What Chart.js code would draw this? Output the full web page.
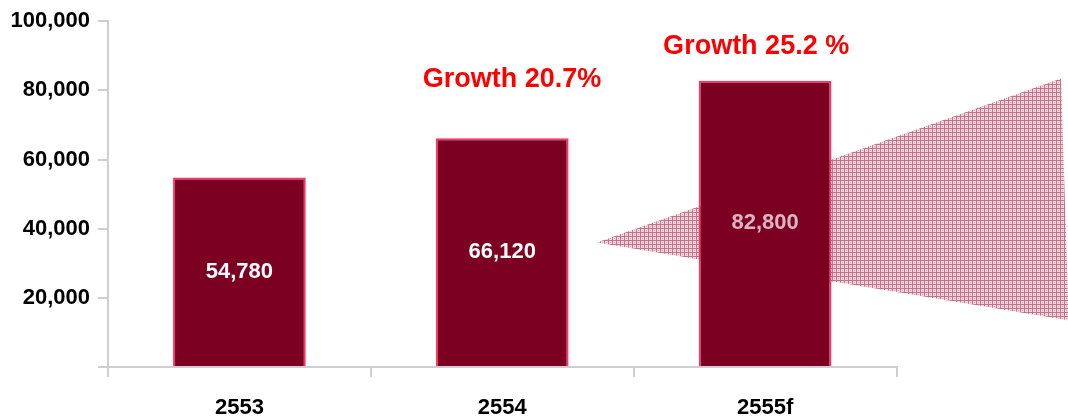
<!DOCTYPE html>
<html lang="en">
<head>
    <meta charset="UTF-8">
    <title>Growth</title>
    <script src="https://cdn.jsdelivr.net/npm/chart.js"></script>
    <style>
        html, body { margin: 0; padding: 0; background: #fff; }
        #wrap { width: 1068px; height: 419px; position: relative; }
    </style>
</head>
<body>
    <div id="wrap">
        <canvas id="growthChart"></canvas>
    </div>

    <script>
        const years = ['2553', '2554', '2555f'];
        const revenue = [54780, 66120, 82800];
        const growthText = ['', 'Growth 20.7%', 'Growth 25.2 %'];
        const yTicks = [0, 20000, 40000, 60000, 80000, 100000];

        const fontFamily = '"Liberation Sans", Arial, sans-serif';

        // hatched fill for the decorative wedge behind the last bar
        function makeHatch() {
            const c = document.createElement('canvas');
            c.width = 4; c.height = 4;
            const g = c.getContext('2d');
            g.fillStyle = '#f2dae0';
            g.fillRect(0, 0, 4, 4);
            g.fillStyle = '#c4728c';
            g.fillRect(0, 0, 4, 1);
            g.fillRect(0, 0, 1, 4);
            g.fillStyle = '#d99cae';
            g.fillRect(2, 2, 1, 1);
            return g.createPattern(c, 'repeat');
        }

        const wedgePlugin = {
            id: 'wedge',
            beforeDatasetsDraw(chart) {
                const x = chart.scales.x, y = chart.scales.y, ctx = chart.ctx;
                ctx.save();
                ctx.fillStyle = makeHatch();
                ctx.beginPath();
                ctx.moveTo(x.getPixelForValue(1.36), y.getPixelForValue(36000));
                ctx.lineTo(x.getPixelForValue(3.126), y.getPixelForValue(83450));
                ctx.lineTo(x.getPixelForValue(3.155), y.getPixelForValue(13500));
                ctx.closePath();
                ctx.fill();
                ctx.restore();
            }
        };

        const labelPlugin = {
            id: 'barLabels',
            afterDatasetsDraw(chart) {
                const ctx = chart.ctx;
                const meta = chart.getDatasetMeta(0);
                const x = chart.scales.x, y = chart.scales.y;
                ctx.save();
                ctx.textAlign = 'center';
                ctx.textBaseline = 'middle';
                meta.data.forEach((bar, i) => {
                    const last = i === revenue.length - 1;
                    ctx.font = 'bold 22px ' + fontFamily;
                    ctx.fillStyle = last ? '#dcb6c2' : '#ffffff';
                    ctx.fillText(revenue[i].toLocaleString('en-US'), bar.x, (bar.y + bar.base) / 2);
                });
                // growth annotations
                ctx.font = 'bold 27px ' + fontFamily;
                ctx.fillStyle = '#ff0000';
                ctx.fillText(growthText[1], x.getPixelForValue(1.037), y.getPixelForValue(83200));
                ctx.fillText(growthText[2], x.getPixelForValue(1.966), y.getPixelForValue(92700));
                ctx.restore();
            }
        };

        const ctx = document.getElementById('growthChart').getContext('2d');
        const growthChart = new Chart(ctx, {
            type: 'bar',
            data: {
                labels: years,
                datasets: [{
                    data: revenue,
                    backgroundColor: '#7b0022',
                    borderColor: '#ff3363',
                    borderWidth: 2,
                    barPercentage: 0.505,
                    categoryPercentage: 1.0
                }]
            },
            options: {
                responsive: true,
                maintainAspectRatio: false,
                animation: false,
                layout: {
                    padding: { top: 19.5, right: 171.5, bottom: 0, left: 0 }
                },
                plugins: {
                    legend: { display: false },
                    tooltip: { enabled: false }
                },
                scales: {
                    x: {
                        offset: true,
                        border: { display: true, color: '#cfcfcf', width: 2 },
                        grid: {
                            offset: true,
                            drawOnChartArea: false,
                            drawTicks: true,
                            tickLength: 10,
                            color: '#cfcfcf',
                            lineWidth: 2
                        },
                        ticks: {
                            color: '#000',
                            padding: 18,
                            font: { family: fontFamily, size: 22, weight: 'bold' }
                        },
                        afterFit(scale) { scale.height = 52; }
                    },
                    y: {
                        min: yTicks[0],
                        max: yTicks[yTicks.length - 1],
                        border: { display: true, color: '#cfcfcf', width: 2 },
                        grid: {
                            drawOnChartArea: false,
                            drawTicks: true,
                            tickLength: 10,
                            color: '#cfcfcf',
                            lineWidth: 2
                        },
                        afterBuildTicks(scale) {
                            scale.ticks = yTicks.map(v => ({ value: v }));
                        },
                        ticks: {
                            color: '#000',
                            padding: 8,
                            font: { family: fontFamily, size: 22, weight: 'bold' },
                            callback: (v) => v === 0 ? '' : v.toLocaleString('en-US')
                        },
                        afterFit(scale) { scale.width = 108; }
                    }
                }
            },
            plugins: [wedgePlugin, labelPlugin]
        });
    </script>
</body>
</html>
